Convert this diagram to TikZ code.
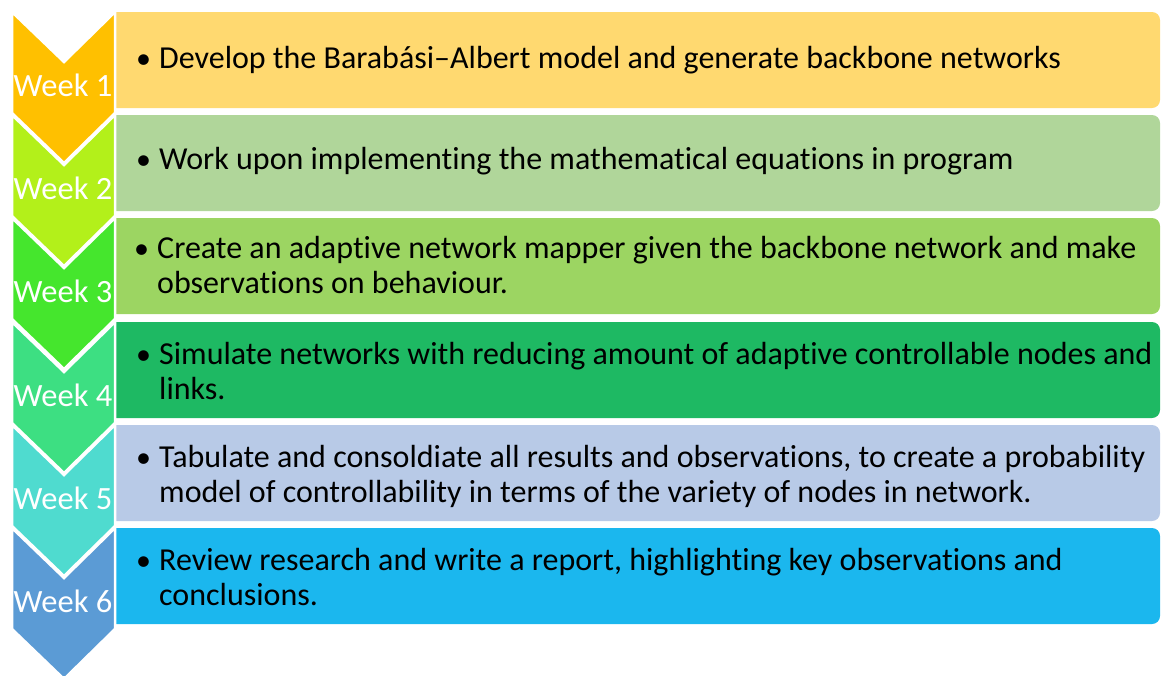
\documentclass[tikz,border=0pt]{standalone}
\usepackage{fontspec}
\setmainfont{Carlito}[Ligatures=NoCommon]
\definecolor{chevA}{HTML}{FFC000}
\definecolor{chevB}{HTML}{B3F01A}
\definecolor{chevC}{HTML}{45E62D}
\definecolor{chevD}{HTML}{3DDF82}
\definecolor{chevE}{HTML}{4FDBCF}
\definecolor{chevF}{HTML}{5B9BD5}
\definecolor{boxA}{HTML}{FFD970}
\definecolor{boxB}{HTML}{B0D69A}
\definecolor{boxC}{HTML}{9CD562}
\definecolor{boxD}{HTML}{1EB963}
\definecolor{boxE}{HTML}{B8CAE7}
\definecolor{boxF}{HTML}{1BB7EE}
\newcommand{\bul}{\makebox[23pt][l]{\fontsize{30}{35}\selectfont•}}
\newcommand{\ind}{\hspace*{23pt}}
\begin{document}
\begin{tikzpicture}[x=1pt, y=-1pt,
    chev/.style={draw=white, line width=2.5pt, line join=miter},
    wk/.style={text=white, font=\fontsize{32.5}{36}\selectfont, inner sep=0pt},
    txt/.style={anchor=west, align=left, font=\fontsize{32}{35}\selectfont, inner sep=0pt}]
    \useasboundingbox (0, 0) rectangle (1161, 675);
    % boxes, left corners hidden by the clip
    \begin{scope}
        \clip (115, 0) rectangle (1161, 675);
        \fill[boxA, rounded corners=8] (100, 12) rectangle (1160, 108);
        \fill[boxB, rounded corners=8] (100, 115) rectangle (1160, 211);
        \fill[boxC, rounded corners=8] (100, 218) rectangle (1160, 314);
        \fill[boxD, rounded corners=8] (100, 322) rectangle (1160, 418);
        \fill[boxE, rounded corners=8] (100, 425) rectangle (1160, 521);
        \fill[boxF, rounded corners=8] (100, 528) rectangle (1160, 624);
    \end{scope}
    % chevrons, last one first
    \filldraw[chev, fill=chevF] (12, 528) -- (64, 578) -- (115, 528) -- (115, 629) -- (64, 679) -- (12, 629) -- cycle;
    \filldraw[chev, fill=chevE] (12, 425) -- (64, 475) -- (115, 425) -- (115, 526) -- (64, 576) -- (12, 526) -- cycle;
    \filldraw[chev, fill=chevD] (12, 322) -- (64, 372) -- (115, 322) -- (115, 423) -- (64, 473) -- (12, 423) -- cycle;
    \filldraw[chev, fill=chevC] (12, 218) -- (64, 268) -- (115, 218) -- (115, 319) -- (64, 369) -- (12, 319) -- cycle;
    \filldraw[chev, fill=chevB] (12, 115) -- (64, 165) -- (115, 115) -- (115, 216) -- (64, 266) -- (12, 216) -- cycle;
    \filldraw[chev, fill=chevA] (12, 12) -- (64, 62) -- (115, 12) -- (115, 113) -- (64, 163) -- (12, 113) -- cycle;
    \node[wk] (w1) at (63, 85) {Week 1};
    \node[wk] (w2) at (63, 188) {Week 2};
    \node[wk] (w3) at (63, 291) {Week 3};
    \node[wk] (w4) at (63, 395) {Week 4};
    \node[wk] (w5) at (63, 498) {Week 5};
    \node[wk] (w6) at (63, 601) {Week 6};
    \node[txt] (t1) at (136, 60) {\bul Develop the Barabási–Albert model and generate backbone networks};
    \node[txt] (t2) at (136, 161) {\bul Work upon implementing the mathematical equations in program};
    \node[txt] (t3) at (134, 265) {\bul Create an adaptive network mapper given the backbone network and make\\ \ind observations on behaviour.};
    \node[txt] (t4) at (136, 371) {\bul Simulate networks with reducing amount of adaptive controllable nodes and\\ \ind links.};
    \node[txt] (t5) at (136, 476) {\bul Tabulate and consoldiate all results and observations, to create a probability\\ \ind model of controllability in terms of the variety of nodes in network.};
    \node[txt] (t6) at (136, 577) {\bul Review research and write a report, highlighting key observations and\\ \ind conclusions.};
\end{tikzpicture}
\end{document}
